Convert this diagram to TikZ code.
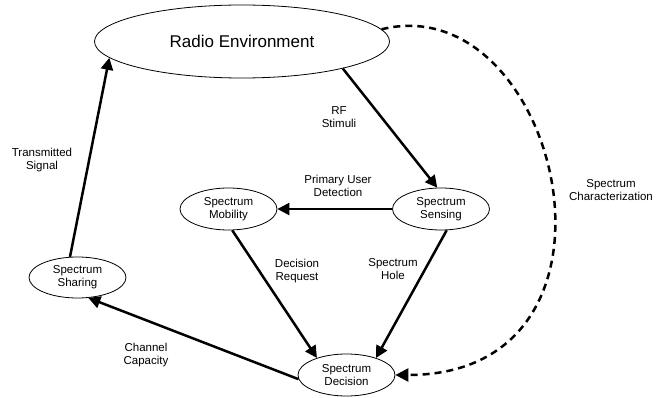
\documentclass[tikz,border=0pt]{standalone}
\usepackage{fontspec}
\setmainfont{Liberation Sans}
\usetikzlibrary{shapes.geometric,arrows.meta}
\begin{document}
\begin{tikzpicture}[x=1pt,y=-1pt,
  state/.style={ellipse,draw,line width=0.8pt,inner sep=0pt,
    minimum width=97pt,minimum height=42pt,align=center,
    font=\fontsize{11.5}{13.3}\selectfont},
  flow/.style={line width=2.5pt,-{Triangle[length=12pt,width=12pt]}},
  loopflow/.style={line width=2.5pt,dash pattern=on 7pt off 5pt,
    -{Triangle[length=13pt,width=13pt]}},
  lbl/.style={align=center,inner sep=0pt,font=\fontsize{11.5}{13.3}\selectfont}]
\useasboundingbox (0,0) rectangle (656,398);

% cognitive cycle states
\node[ellipse,draw,line width=0.8pt,inner sep=0pt,minimum width=295pt,
  minimum height=73pt,font=\fontsize{17}{20}\selectfont] (radio) at (242,41.5) {Radio Environment};
\node[state] (sensing)  at (441,209)   {Spectrum\\Sensing};
\node[state] (mobility) at (228.5,209) {Spectrum\\Mobility};
\node[state] (decision) at (346.5,375) {Spectrum\\Decision};
\node[state,minimum height=41pt] (sharing) at (77.5,277.5) {Spectrum\\Sharing};

% transitions
\draw[flow] (radio.-15) -- (sensing.100);
\draw[flow] (sensing.west) -- (mobility.east);
\draw[flow] (mobility.-80) -- (decision.150);
\draw[flow] (sensing.-75) -- (decision.30);
\draw[flow] (decision.185) -- (sharing.-62);
\draw[flow] (sharing.110) -- (radio.187);
\draw[loopflow] (radio.5) .. controls +(178,-44) and +(255,0) .. (decision.east);

% transition labels
\node[lbl] (lrf)    at (339,117) {RF\\Stimuli};
\node[lbl] (lpud)   at (338,186) {Primary User\\Detection};
\node[lbl] (ldr)    at (297,271) {Decision\\Request};
\node[lbl] (lhole)  at (393,269) {Spectrum\\Hole};
\node[lbl] (lchar)  at (611,190) {Spectrum\\Characterization};
\node[lbl] (ltx)    at (42,160)  {Transmitted\\Signal};
\node[lbl] (lcap)   at (146,355) {Channel\\Capacity};
\end{tikzpicture}
\end{document}
